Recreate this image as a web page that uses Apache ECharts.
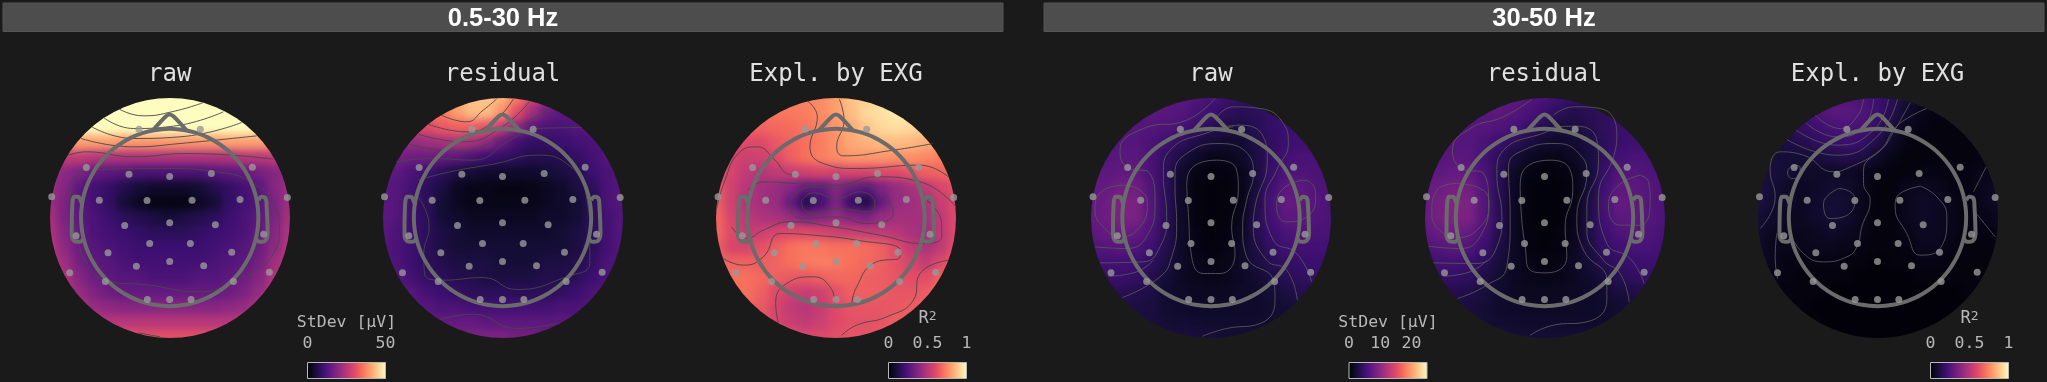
<!DOCTYPE html>
<html>
<head>
<meta charset="utf-8">
<style>
  html, body { margin: 0; padding: 0; background: #1a1a1a; overflow: hidden; }
  #page { position: relative; width: 2047px; height: 382px; }
  .scalp { position: absolute; top: 97.5px; width: 240px; height: 240px; border-radius: 50%; overflow: hidden; }
  .field { position: absolute; left: -7.5px; top: -7.5px; width: 255px; height: 255px; filter: blur(4.5px); }
  #overlay { position: absolute; left: 0; top: 0; width: 2047px; height: 382px; }
</style>
<script src="https://cdn.jsdelivr.net/npm/echarts@6/dist/echarts.min.js"></script>
</head>
<body>
<div id="page"><div id="overlay"></div></div>
<script>
const bandLabels = ['0.5-30 Hz', '30-50 Hz']
const mapTitles = ['raw', 'residual', 'Expl. by EXG', 'raw', 'residual', 'Expl. by EXG']
const magma = ['#000004', '#140e36', '#3b0f70', '#641a80', '#8c2981', '#b73779', '#de4968', '#f7705c', '#fe9f6d', '#fecf92', '#fcfdbf']

// field values, 17 x 17 cells, top row first
const rawLow = [
  [50, 50, 50, 50, 50, 50, 50, 50, 50, 50, 50, 50, 50, 50, 50, 50, 50],
  [50, 50, 50, 50, 50, 50, 50, 50, 50, 50, 50, 50, 50, 50, 50, 50, 50],
  [50, 50, 50, 50, 50, 50, 50, 50, 50, 50, 50, 50, 50, 50, 50, 50, 50],
  [40, 40, 40, 40, 40, 39, 39, 39, 39, 39, 39, 39, 40, 40, 40, 40, 40],
  [26, 26, 26, 25, 24, 24, 24, 24, 24, 24, 24, 24, 24, 25, 25, 26, 26],
  [22, 20, 18, 15, 14, 13, 12, 12, 12, 12, 12, 13, 14, 15, 17, 19, 21],
  [22, 19, 14, 11, 9, 7, 5, 4, 4, 4, 5, 7, 9, 11, 14, 19, 22],
  [22, 18, 13, 11, 9, 5, 3, 1.5, 1.5, 1.5, 3, 5, 9, 11, 13, 18, 22],
  [23, 18, 14, 12, 10, 8, 7, 6, 5, 6, 7, 8, 10, 12, 14, 18, 23],
  [24, 19, 15, 12, 11, 10, 9, 8, 8, 8, 9, 10, 11, 12, 15, 19, 24],
  [25, 20, 16, 13, 12, 11, 10, 10, 10, 10, 10, 11, 12, 13, 16, 20, 25],
  [26, 22, 17, 14, 13, 12, 11, 11, 11, 11, 11, 12, 13, 14, 17, 22, 26],
  [27, 24, 19, 16, 14, 13, 13, 12, 12, 12, 13, 13, 14, 16, 19, 24, 27],
  [29, 25, 21, 18, 16, 15, 15, 15, 15, 15, 15, 15, 16, 18, 21, 25, 29],
  [31, 27, 24, 21, 20, 19, 19, 19, 19, 19, 19, 19, 20, 21, 24, 27, 31],
  [32, 30, 28, 26, 25, 25, 25, 25, 25, 25, 25, 25, 25, 26, 28, 30, 32],
  [33, 33, 32, 32, 31, 31, 31, 31, 31, 31, 31, 31, 31, 32, 32, 33, 33]
]
const residualLow = [
  [36, 36, 36, 38, 40, 42, 44, 44, 42, 36, 28, 22, 18, 15, 14, 14, 14],
  [36, 36, 36, 36, 36, 40, 43, 43, 38, 30, 22, 16, 14, 14, 14, 13, 13],
  [28, 28, 28, 30, 32, 33, 33, 31, 26, 20, 14, 12, 12, 13, 13, 13, 13],
  [20, 20, 21, 22, 23, 24, 23, 20, 15, 11, 9, 9, 10, 11, 12, 12, 12],
  [17, 17, 16, 16, 15, 14, 12, 10, 9, 8, 7, 7, 7, 9, 11, 13, 13],
  [15, 14, 12, 10, 8, 6, 5, 4, 4, 4, 4, 5, 6, 7, 10, 12, 13],
  [14, 13, 11, 8, 6, 3, 2, 2, 1.5, 1.5, 2, 3, 4, 6, 8, 12, 13],
  [14, 13, 10, 8, 5, 3, 2, 2, 2, 2, 2, 3, 4, 5, 8, 12, 13],
  [14, 13, 10, 8, 5, 4, 3, 3, 3, 3, 3, 4, 4, 5, 8, 11, 13],
  [14, 12, 10, 8, 6, 5, 4, 4, 4, 4, 4, 4, 5, 6, 8, 11, 13],
  [13, 12, 10, 8, 6, 5, 5, 5, 5, 5, 5, 5, 5, 6, 8, 11, 13],
  [14, 12, 10, 8, 7, 6, 6, 6, 5, 5, 5, 6, 6, 7, 9, 12, 13],
  [14, 13, 11, 9, 8, 7, 7, 6, 6, 6, 6, 7, 7, 8, 10, 12, 13],
  [14, 14, 13, 11, 10, 9, 8, 8, 8, 8, 8, 8, 9, 10, 12, 13, 13],
  [14, 15, 14, 13, 12, 12, 11, 11, 11, 11, 11, 11, 12, 12, 13, 14, 14],
  [15, 15, 16, 15, 15, 15, 15, 14, 14, 14, 14, 14, 14, 14, 15, 15, 15],
  [17, 17, 17, 17, 17, 18, 18, 18, 18, 17, 17, 16, 16, 16, 16, 16, 16]
]
const explainedLow = [
  [.68, .68, .7, .72, .72, .73, .74, .76, .8, .88, .9, .9, .9, .9, .9, .9, .9],
  [.68, .68, .69, .7, .71, .72, .73, .76, .8, .86, .92, .94, .96, .96, .95, .92, .9],
  [.66, .66, .66, .67, .68, .69, .71, .74, .78, .83, .88, .92, .93, .92, .9, .88, .85],
  [.63, .62, .6, .6, .64, .67, .7, .73, .77, .82, .84, .86, .86, .85, .83, .8, .78],
  [.6, .58, .55, .56, .6, .66, .7, .73, .76, .78, .78, .78, .77, .77, .75, .73, .72],
  [.62, .58, .52, .5, .52, .54, .56, .58, .56, .58, .58, .6, .6, .63, .66, .67, .67],
  [.65, .56, .5, .45, .43, .38, .3, .3, .38, .32, .28, .36, .42, .46, .52, .58, .62],
  [.66, .56, .48, .45, .42, .3, .14, .22, .36, .18, .13, .3, .42, .44, .47, .54, .6],
  [.68, .58, .51, .48, .46, .42, .36, .38, .42, .38, .36, .42, .45, .45, .46, .52, .6],
  [.68, .6, .52, .55, .58, .6, .6, .58, .55, .54, .53, .52, .5, .47, .44, .52, .6],
  [.66, .58, .58, .62, .66, .7, .72, .71, .7, .7, .69, .66, .6, .53, .47, .52, .62],
  [.68, .66, .66, .65, .67, .7, .72, .73, .72, .7, .68, .66, .62, .57, .53, .6, .65],
  [.7, .7, .7, .68, .66, .64, .64, .66, .68, .68, .66, .65, .63, .61, .61, .66, .7],
  [.7, .7, .7, .66, .6, .56, .54, .56, .62, .66, .66, .65, .63, .63, .65, .7, .7],
  [.7, .7, .68, .64, .58, .52, .5, .54, .6, .63, .63, .63, .64, .65, .67, .7, .7],
  [.7, .7, .68, .64, .58, .54, .52, .55, .6, .62, .62, .63, .65, .66, .67, .7, .7],
  [.68, .68, .68, .66, .64, .62, .6, .6, .62, .63, .63, .64, .65, .66, .67, .68, .68]
]
const rawHigh = [
  [6.2, 6.2, 6.2, 6.8, 7, 7, 6.8, 6.2, 5.8, 5, 4.5, 4.5, 4.5, 4.8, 5, 5, 5],
  [6.2, 6.2, 6.2, 6.5, 6.8, 6.8, 6.5, 5.8, 5, 4.2, 3.8, 4, 4.5, 5, 5.2, 5.2, 5.2],
  [6.2, 6.2, 6.2, 6.5, 6.5, 6.2, 5.8, 4.8, 3.8, 3, 3, 3.8, 4.5, 5, 5.2, 5.5, 5.5],
  [6.2, 6.2, 6.5, 6.5, 6, 5.2, 4.2, 3.2, 2.5, 2.2, 2.2, 3.2, 4.2, 5, 5.2, 5.5, 5.5],
  [6.5, 6.5, 6.8, 6.8, 5.8, 4.2, 3, 1.8, 1.1, 1.2, 1.8, 3, 4.5, 5.5, 5.8, 5.8, 5.8],
  [7, 7, 7.2, 7.2, 6, 4, 2, .9, .5, .6, 1.1, 2.8, 4.8, 6, 6.2, 6, 5.8],
  [7.2, 7.5, 8.2, 8.2, 6.2, 4, 1.8, .6, .4, .5, 1, 2.8, 5.2, 7, 7, 6.2, 6],
  [7.5, 8, 9, 8.8, 6.5, 4, 1.8, .6, .4, .5, 1.1, 3.2, 5.8, 7.5, 7.2, 6.5, 6],
  [7.5, 8, 9, 8.8, 6.5, 4, 1.8, .6, .4, .5, 1.2, 3.5, 5.5, 7, 7, 6.2, 6],
  [7, 7.5, 8, 7.5, 6, 3.8, 1.8, .8, .4, .6, 1.5, 3.5, 5, 6, 6.2, 6, 5.8],
  [6.2, 6.5, 6.8, 6.2, 5.2, 3.5, 1.8, .8, .5, .8, 1.8, 3.2, 4.5, 5.2, 5.5, 5.5, 5.5],
  [5.5, 5.5, 5.5, 5.2, 4.2, 3, 1.8, 1, .8, 1, 1.8, 2.8, 3.8, 4.5, 4.8, 5, 5],
  [4.8, 4.8, 4.8, 4.5, 3.5, 2.5, 1.6, 1.2, 1.1, 1.2, 1.6, 2.2, 3, 3.8, 4.2, 4.5, 4.5],
  [3.8, 3.8, 3.8, 3.5, 3, 2.2, 1.8, 1.5, 1.5, 1.5, 1.8, 2, 2.5, 3, 3.5, 3.8, 3.8],
  [3.2, 3.2, 3.2, 3, 2.8, 2.2, 2, 1.8, 1.8, 1.8, 2, 2, 2.2, 2.5, 2.8, 3, 3],
  [3.2, 3.2, 3.2, 3, 2.8, 2.5, 2.4, 2.2, 2.1, 2.1, 2.1, 2.1, 2.2, 2.4, 2.5, 2.8, 2.8],
  [3.2, 3.2, 3.2, 3, 3, 3, 2.8, 2.8, 2.8, 2.5, 2.5, 2.5, 2.5, 2.5, 2.8, 2.8, 2.8]
]
const residualHigh = [
  [6.5, 6.5, 6.5, 6.8, 7, 7, 7, 6.5, 6, 5.2, 4.5, 4.2, 4.2, 4.5, 4.8, 4.8, 4.8],
  [6.5, 6.5, 6.5, 6.5, 6.8, 7, 6.5, 5.8, 5, 4, 3.5, 3.8, 4.2, 4.8, 5, 5, 5],
  [6.2, 6.2, 6.2, 6.5, 6.5, 6.2, 5.8, 4.8, 3.5, 2.8, 2.8, 3.5, 4.2, 4.8, 5, 5.2, 5.2],
  [6.2, 6.2, 6.5, 6.5, 6, 5, 4, 3, 2.2, 2, 2.2, 3, 4, 4.8, 5.2, 5.5, 5.5],
  [6.5, 6.5, 6.8, 6.8, 5.5, 4, 2.6, 1.5, 1, 1, 1.6, 2.8, 4.2, 5.5, 5.8, 5.8, 5.8],
  [7, 7.2, 7.5, 7.2, 6, 3.8, 1.8, .8, .4, .5, 1, 2.5, 4.8, 6.2, 6.5, 6.2, 6],
  [7.5, 8, 8.5, 8.2, 6.2, 3.8, 1.5, .5, .3, .4, .9, 2.5, 5.2, 7, 7, 6.5, 6],
  [7.5, 8.5, 9.2, 8.8, 6.5, 3.8, 1.5, .5, .3, .4, 1, 3, 5.8, 7.5, 7.2, 6.5, 6],
  [7.5, 8.5, 9.2, 8.8, 6.5, 3.8, 1.5, .5, .3, .4, 1.1, 3.2, 5.5, 7, 7.2, 6.5, 6],
  [7, 7.8, 8.2, 7.5, 5.8, 3.5, 1.5, .6, .3, .5, 1.2, 3.2, 5, 6.2, 6.5, 6.2, 5.8],
  [6.2, 6.5, 6.8, 6.2, 5, 3.2, 1.6, .6, .4, .6, 1.5, 3, 4.5, 5.2, 5.8, 5.8, 5.5],
  [5.2, 5.5, 5.5, 5, 4, 2.8, 1.6, .9, .7, .9, 1.6, 2.5, 3.8, 4.5, 5, 5, 5],
  [4.5, 4.5, 4.5, 4.2, 3.2, 2.2, 1.5, 1.1, 1, 1.1, 1.5, 2, 2.8, 3.8, 4.2, 4.5, 4.5],
  [3.5, 3.5, 3.5, 3.2, 2.8, 2, 1.6, 1.4, 1.4, 1.4, 1.6, 1.8, 2.2, 2.8, 3.2, 3.5, 3.5],
  [2.8, 2.8, 2.8, 2.8, 2.5, 2, 1.8, 1.6, 1.6, 1.6, 1.8, 1.8, 2, 2.2, 2.5, 2.8, 2.8],
  [2.8, 2.8, 2.8, 2.8, 2.5, 2.2, 2.1, 2, 2, 2, 2, 2, 2, 2.2, 2.4, 2.5, 2.5],
  [2.8, 2.8, 2.8, 2.8, 2.8, 2.8, 2.5, 2.5, 2.5, 2.4, 2.4, 2.4, 2.4, 2.4, 2.5, 2.5, 2.5]
]
const explainedHigh = [
  [.14, .14, .16, .2, .24, .26, .26, .24, .2, .16, .1, .05, .03, .03, .03, .03, .03],
  [.14, .15, .17, .2, .25, .27, .27, .25, .2, .14, .08, .04, .03, .02, .02, .02, .02],
  [.12, .13, .15, .18, .21, .23, .24, .23, .18, .11, .05, .03, .02, .02, .02, .02, .02],
  [.11, .11, .12, .14, .17, .19, .2, .19, .13, .07, .03, .02, .02, .02, .02, .02, .02],
  [.11, .11, .1, .1, .11, .13, .14, .12, .07, .04, .02, .02, .02, .02, .02, .03, .04],
  [.12, .11, .1, .08, .07, .07, .07, .05, .03, .02, .02, .03, .03, .03, .03, .04, .05],
  [.12, .1, .08, .06, .07, .09, .08, .05, .02, .02, .05, .06, .05, .03, .03, .05, .06],
  [.12, .09, .07, .06, .08, .1, .09, .05, .02, .02, .05, .07, .06, .04, .03, .05, .07],
  [.1, .08, .06, .06, .08, .1, .08, .05, .02, .02, .05, .07, .06, .04, .03, .04, .05],
  [.08, .06, .05, .05, .06, .07, .06, .04, .02, .02, .04, .06, .06, .04, .02, .03, .03],
  [.07, .05, .04, .05, .05, .05, .04, .03, .02, .02, .03, .05, .05, .03, .02, .02, .02],
  [.06, .05, .03, .03, .03, .03, .02, .02, .01, .02, .02, .03, .03, .02, .02, .02, .02],
  [.05, .04, .03, .02, .02, .02, .02, .01, .01, .01, .01, .02, .02, .02, .02, .02, .02],
  [.03, .03, .02, .02, .02, .01, .01, .01, .01, .01, .01, .01, .01, .01, .02, .02, .02],
  [.02, .02, .02, .02, .01, .01, .01, .01, .01, .01, .01, .01, .01, .01, .01, .02, .02],
  [.02, .02, .02, .02, .02, .01, .01, .01, .01, .01, .01, .01, .01, .01, .01, .02, .02],
  [.02, .02, .02, .02, .02, .02, .01, .01, .01, .01, .01, .01, .01, .01, .01, .02, .02]
]
const fields = [rawLow, residualLow, explainedLow, rawHigh, residualHigh, explainedHigh]
const fieldMax = [50, 50, 1, 25, 25, 1]

// sensor positions, head units with the scalp edge at 360
const sensors = [
  [-354, 62], [-250, 150], [-92, 265], [92, 265], [248, 151], [353, 60], [-122, 130], [0, 123],
  [125, 132], [-211, 52], [-68, 51], [67, 52], [211, 54], [-135, -24], [0, -16], [137, -22],
  [-281, -55], [282, -50], [-60, -78], [62, -78], [-185, -106], [186, -104], [-100, -146], [0, -132],
  [102, -145], [-300, -166], [299, -164], [-193, -192], [191, -192], [-67, -246], [0, -246], [64, -246]
]

// head outline
const noseLine = [[-50, 262], [-12, 303], [0, 309], [12, 303], [50, 262]]
const leftEar = [[-264, 42], [-274, 62], [-287, 62], [-292, 42], [-294, -48], [-287, -70], [-269, -73], [-259, -63]]
const rightEar = [[266, 52], [276, 62], [288, 57], [291, 32], [294, -48], [286, -70], [269, -73], [259, -63]]
const headRadius = 266

// contour lines, same head units
const contoursRawLow = [
  [[-151, 325], [-80, 305], [10, 318], [99, 344]],
  [[-199, 300], [-109, 267], [11, 274], [161, 317]],
  [[-234, 272], [-109, 237], [31, 242], [216, 285]],
  [[-266, 237], [-109, 212], [31, 222], [261, 245]],
  [[-304, 187], [-249, 197], [-109, 182], [51, 192], [311, 175]],
  [[-299, 52], [-284, 122], [-209, 144], [-9, 147], [141, 137], [251, 102], [316, 32], [329, -28], [311, -108], [191, -193], [81, -223], [-59, -203], [-189, -190], [-254, -128], [-279, -48], [-297, 32], [-299, 52]],
  [[-94, -346], [-29, -358]]
]
const contoursResidualLow = [
  [[-183, 307], [-108, 287], [-58, 322], [-18, 355]],
  [[-223, 280], [-108, 257], [-28, 287], [32, 355]],
  [[-253, 250], [-118, 227], [-8, 267], [80, 347]],
  [[-278, 219], [-138, 200], [-38, 222], [42, 267], [142, 329]],
  [[-318, 167], [-208, 177], [-88, 172], [22, 232], [102, 267], [237, 270]],
  [[-253, 112], [-158, 137], [-18, 162], [102, 187], [192, 162], [252, 62], [262, -68], [262, -138], [192, -178], [42, -216], [-58, -180], [-178, -188], [-233, -173], [-236, -108], [-220, -28], [-253, 62]],
  [[-188, -306], [-88, -290], [42, -333], [162, -318]]
]
const contoursExplainedLow = [
  [[-86, 350], [-56, 302], [-78, 212], [-38, 162], [62, 147], [252, 157], [337, 122]],
  [[10, 355], [24, 292], [2, 212], [22, 185], [172, 202], [292, 222]],
  [[-263, 82], [-218, 107], [-118, 102], [2, 97], [122, 122], [252, 107], [360, 32]],
  [[-358, 27], [-333, 112], [-293, 192], [-238, 212], [-183, 172], [-148, 132], [-123, 127]],
  [[-313, -28], [-268, -63], [-218, -38], [-138, -13], [-8, -28], [132, -53], [262, -78], [317, -58], [317, -18], [272, 52]],
  [[-138, 52], [-78, 92], [2, 87], [72, 97], [152, 52], [172, 12], [92, -18], [2, 2], [-98, -3], [-138, 32], [-138, 52]],
  [[-103, 52], [-68, 74], [2, 57], [72, 77], [117, 42], [102, 17], [2, 27], [-68, 12], [-103, 42], [-103, 52]],
  [[-338, -123], [-278, -143], [-218, -118], [-168, -48], [-68, -53], [62, -68], [192, -98], [192, -118], [112, -138], [62, -208], [47, -258]],
  [[-173, -316], [-181, -258], [-148, -198], [-68, -178], [-18, -208], [-3, -258]],
  [[337, -128], [252, -168], [232, -248], [152, -298], [62, -323], [17, -353]]
]
const contoursRawHigh = [
  [[-73, 92], [-68, 132], [17, 172], [77, 142], [82, 82], [62, -28], [72, -108], [27, -168], [-23, -168], [-58, -118], [-68, 12], [-73, 92]],
  [[-266, -240], [-153, -178], [-118, -118], [-103, -18], [-108, 92], [-108, 132], [-73, 192], [27, 222], [117, 182], [127, 132], [107, 52], [95, -28], [107, -118], [187, -188], [192, -248], [147, -318], [47, -333], [-26, -356]],
  [[-333, -136], [-203, -133], [-153, -88], [-133, 2], [-143, 132], [-123, 202], [-3, 257], [67, 272]],
  [[-308, -176], [-223, -163], [-173, -128]],
  [[12, 357], [-73, 292], [-203, 267], [-273, 202], [-253, 152], [-183, 132], [-168, 42], [-188, -48], [-253, -93], [-348, -88]],
  [[-263, 97], [-323, 82], [-348, 22], [-313, -38], [-273, -58], [-213, -28], [-191, 42], [-213, 82], [-263, 97]],
  [[277, 112], [217, 87], [197, 32], [227, -13], [287, 2], [314, 62], [302, 102], [277, 112]],
  [[17, 267], [87, 277], [157, 242], [169, 172], [132, 32], [127, -28], [167, -128], [227, -158], [259, -248]],
  [[17, 302], [67, 332], [147, 327], [217, 282], [232, 222], [197, 142], [162, 52], [187, -68], [257, -108], [302, -193]]
]
const contoursResidualHigh = [
  [[-73, 92], [-68, 132], [17, 172], [77, 142], [85, 82], [62, -28], [67, -118], [7, -166], [-43, -158], [-58, -88], [-71, 32], [-73, 92]],
  [[-261, -243], [-173, -203], [-113, -148], [-103, 2], [-108, 152], [-63, 202], [37, 222], [112, 182], [127, 132], [97, 2], [117, -98], [187, -188], [187, -248], [127, -313], [27, -323], [-43, -353]],
  [[-333, -136], [-203, -138], [-143, -88], [-128, 2], [-143, 132], [-123, 202], [7, 257], [37, 267]],
  [[-303, -176], [-223, -163], [-173, -128]],
  [[-38, 355], [-123, 302], [-223, 267], [-276, 202], [-248, 147], [-183, 132], [-168, 42], [-188, -48], [-253, -93], [-348, -86]],
  [[-263, 102], [-323, 82], [-338, 12], [-303, -48], [-263, -60], [-193, -28], [-166, 42], [-193, 87], [-263, 102]],
  [[287, 127], [217, 92], [192, 32], [227, -23], [287, -23], [317, 52], [312, 107], [287, 127]],
  [[27, 272], [97, 274], [157, 232], [162, 162], [127, 32], [127, -38], [177, -128], [227, -168], [254, -253]],
  [[27, 307], [87, 332], [167, 327], [217, 252], [207, 182], [162, 62], [187, -78], [257, -123], [299, -198]]
]
const contoursExplainedHigh = [
  [[-187, 307], [-112, 267], [-62, 302], [-42, 355]],
  [[-215, 284], [-122, 242], [-42, 272], [-12, 355]],
  [[-244, 262], [-122, 217], [-12, 262], [33, 355]],
  [[-272, 234], [-122, 187], [-2, 242], [60, 355]],
  [[-352, -33], [-307, 62], [-322, 142], [-292, 197], [-222, 187], [-132, 137], [-92, 147], [8, 202], [48, 257], [98, 345]],
  [[148, 327], [88, 297], [48, 262], [18, 212], [-42, 142], [-42, 102], [-22, 52], [-47, -28], [-62, -88], [-92, -118], [-162, -133], [-222, -108], [-262, -48]],
  [[-252, 157], [-270, 137], [-257, 117], [-232, 125], [-232, 150], [-252, 157]],
  [[-117, 87], [-162, 42], [-142, -3], [-102, 2], [-67, 52], [-82, 77], [-117, 87]],
  [[128, 94], [58, 62], [53, 32], [88, -48], [128, -113], [188, -93], [208, 2], [178, 62], [128, 94]],
  [[326, 152], [288, 77]],
  [[288, 22], [353, -58]],
  [[-302, -48], [-307, -118], [-300, -183]]
]
const contours = [contoursRawLow, contoursResidualLow, contoursExplainedLow, contoursRawHigh, contoursResidualHigh, contoursExplainedHigh]

// colour bars
const barTitles = ['StDev [µV]', '{r|R}{s|2}', 'StDev [µV]', '{r|R}{s|2}']
const barMax = [50, 1, 25, 1]
const barTicks = [[0, 50], [0, 0.5, 1], [0, 10, 20], [0, 0.5, 1]]

// layout
const mapX = [169.7, 502.5, 836, 1211, 1544.5, 1877.5]
const barX = [307.5, 888.5, 1349, 1930.5]
const bandX = [[3, 1003], [1044, 2044]]
const mono = '"DejaVu Sans Mono", monospace'

// one blurred heatmap per scalp, clipped to a disc by its wrapper
fields.forEach((rows, k) => {
  const scalp = document.createElement('div')
  scalp.className = 'scalp'
  scalp.style.left = (mapX[k] - 120) + 'px'
  const inner = document.createElement('div')
  inner.className = 'field'
  scalp.appendChild(inner)
  document.getElementById('page').insertBefore(scalp, document.getElementById('overlay'))

  const cells = []
  rows.forEach((row, i) => row.forEach((v, j) => cells.push([j, i, v])))
  const chart = echarts.init(inner)
  chart.setOption({
    animation: false,
    grid: { left: 0, right: 0, top: 0, bottom: 0 },
    xAxis: { type: 'category', show: false, data: rows[0].map((_, j) => j) },
    yAxis: { type: 'category', show: false, inverse: true, data: rows.map((_, i) => i) },
    visualMap: { show: false, min: 0, max: fieldMax[k], inRange: { color: magma } },
    series: [{ type: 'heatmap', data: cells }]
  })
})

// everything drawn on top: head, sensors, contours, texts, colour bars
const grids = []
const xAxes = []
const yAxes = []
const series = []
const titles = []
const graphics = []

mapX.forEach((cx, k) => {
  grids.push({ left: cx - 120, top: 97.5, width: 240, height: 240 })
  xAxes.push({ type: 'value', min: -360, max: 360, show: false, gridIndex: k })
  yAxes.push({ type: 'value', min: -360, max: 360, show: false, gridIndex: k })
  titles.push({
    text: mapTitles[k], left: cx, top: 62.5, padding: 0, textAlign: 'center',
    textStyle: { color: '#e0e0e0', fontFamily: mono, fontSize: 24, fontWeight: 'normal' }
  })
  const lineOf = (data, color, width, smooth) => ({
    type: 'line', xAxisIndex: k, yAxisIndex: k, data: data, symbol: 'none', smooth: smooth,
    lineStyle: { color: color, width: width }, silent: true, z: 3
  })
  const contourColor = k < 3 ? '#474747' : '#575757'
  contours[k].forEach(c => series.push(lineOf(c, contourColor, 0.9, 0.5)))

  const circle = []
  for (let a = 0; a <= 360; a += 5) {
    circle.push([headRadius * Math.cos(a * Math.PI / 180), headRadius * Math.sin(a * Math.PI / 180)])
  }
  series.push(lineOf(circle, '#6b6b6b', 4, true))
  series.push(lineOf(noseLine, '#6b6b6b', 4, 0.3))
  series.push(lineOf(leftEar, '#6b6b6b', 4, 0.3))
  series.push(lineOf(rightEar, '#6b6b6b', 4, 0.3))
  series.push({
    type: 'scatter', xAxisIndex: k, yAxisIndex: k, data: sensors, symbolSize: 7,
    itemStyle: { color: '#999999' }, silent: true, z: 5
  })
})

barX.forEach((x, b) => {
  const g = grids.length
  grids.push({
    left: x, top: 362.5, width: 78, height: 16, show: true, borderColor: '#b8b8b8', borderWidth: 1,
    backgroundColor: new echarts.graphic.LinearGradient(0, 0, 1, 0, magma.map((c, i) => ({ offset: i / (magma.length - 1), color: c })))
  })
  xAxes.push({
    type: 'value', gridIndex: g, position: 'top', min: 0, max: barMax[b],
    axisLine: { show: false }, splitLine: { show: false }, axisTick: { show: false },
    axisLabel: {
      customValues: barTicks[b], margin: 10, color: '#b8b8b8', fontFamily: mono, fontSize: 16.5, hideOverlap: false,
      formatter: v => String(v)
    }
  })
  yAxes.push({ type: 'value', gridIndex: g, show: false })
  titles.push({
    text: barTitles[b], left: x + 39, top: b % 2 ? 310 : 314, padding: 0, textAlign: 'center',
    textStyle: {
      color: '#b8b8b8', fontFamily: mono, fontSize: 16.5, fontWeight: 'normal',
      rich: {
        r: { color: '#b8b8b8', fontFamily: mono, fontSize: 17, verticalAlign: 'bottom' },
        s: { color: '#b8b8b8', fontFamily: mono, fontSize: 13, verticalAlign: 'top' }
      }
    }
  })
})

bandLabels.forEach((label, b) => {
  graphics.push({
    type: 'rect', z: 0,
    shape: { x: bandX[b][0], y: 3, width: bandX[b][1] - bandX[b][0], height: 28.5 },
    style: { fill: '#4d4d4d', stroke: '#555555', lineWidth: 1 }
  })
  titles.push({
    text: label, left: (bandX[b][0] + bandX[b][1]) / 2, top: 5.5, padding: 0, textAlign: 'center',
    textStyle: { color: '#ffffff', fontFamily: '"Liberation Sans", Arial, sans-serif', fontSize: 25.5, fontWeight: 'bold' }
  })
})

const overlay = echarts.init(document.getElementById('overlay'))
overlay.setOption({
  animation: false,
  backgroundColor: 'transparent',
  title: titles,
  grid: grids,
  xAxis: xAxes,
  yAxis: yAxes,
  series: series,
  graphic: graphics
})
</script>
</body>
</html>
